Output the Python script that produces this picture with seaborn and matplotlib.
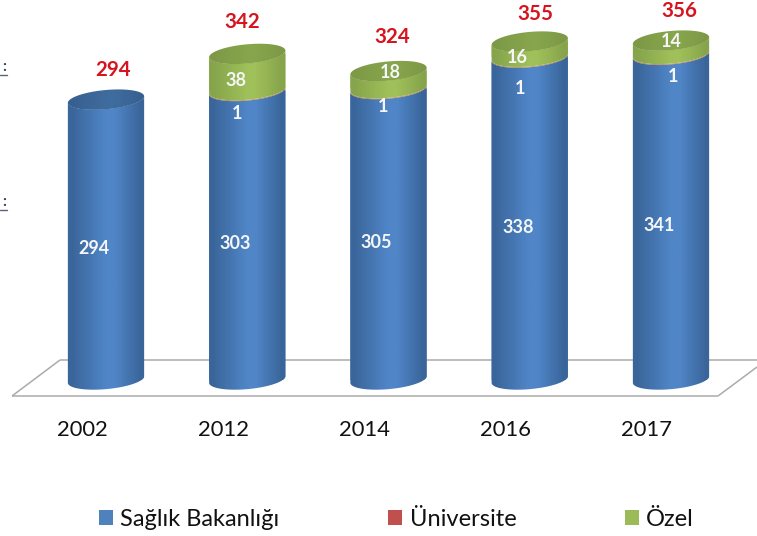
import numpy as np
import matplotlib
matplotlib.use("Agg")
import matplotlib.pyplot as plt
import seaborn as sns
from matplotlib.colors import LinearSegmentedColormap
from matplotlib.patches import Patch
from matplotlib.path import Path

# ---- data ----
years = ["2002", "2012", "2014", "2016", "2017"]
saglik = [294, 303, 305, 338, 341]
universite = [0, 1, 1, 1, 1]
ozel = [0, 38, 18, 16, 14]
totals = [294, 342, 324, 355, 356]
series_names = ["Sağlık Bakanlığı", "Üniversite", "Özel"]

# ---- layout (pixels of the 757x536 picture) ----
W, H = 757, 536
X0, STEP = 106.0, 141.25      # first cylinder centre, spacing
Y0, PXY = 379.5, 0.952        # y pixel of value 0, pixels per unit
AX_BOTTOM = 396
A, B, PHI = 38.3, 9.6, np.radians(5.3)
TICK_SHIFT = -24

blue_off = [(-12, -8.5)] * 5
red_off = [None, (-10, -23), (-5, -18), (-10, -31), (2, -22)]
green_off = [None, (-11, -8), (2, 7), (-12, -8), (0, 6)]
total_off = [(7, 30), (-5, 32), (4, 34), (6, 28), (8, 30)]

sns.set_style("white")
plt.rcParams["font.family"] = ["Lato", "DejaVu Sans"]

fig = plt.figure(figsize=(W / 100, H / 100), dpi=100)
ax = fig.add_axes([0, (H - AX_BOTTOM) / H, 1, AX_BOTTOM / H])


def xd(px):
    return (px - X0) / STEP


def yd(py):
    return (Y0 - py) / PXY


def ramp(edge, mid):
    return LinearSegmentedColormap.from_list(
        "r", [(0, edge), (0.06, edge), (0.5, mid), (0.6, mid), (0.94, edge), (1, edge)])


def arc(i, v, t0, t1, n=60):
    t = np.linspace(t0, t1, n)
    dx = A * np.cos(t) * np.cos(PHI) - B * np.sin(t) * np.sin(PHI)
    dy = A * np.cos(t) * np.sin(PHI) + B * np.sin(t) * np.cos(PHI)
    return np.column_stack([i + dx / STEP, v + dy / PXY])


grad = np.linspace(0, 1, 256).reshape(1, -1)


def shade(i, v0, v1, cmap, pts, z):
    pad = 14 / PXY
    im = ax.imshow(grad, cmap=cmap, aspect="auto", interpolation="bilinear", zorder=z,
                   extent=(i - (A + 1) / STEP, i + (A + 1) / STEP, v0 - pad, v1 + pad))
    im.set_clip_path(Path(np.vstack([pts, pts[:1]])), ax.transData)


colors = ["#4F81BD", "#C0504D", "#9BBB59"]
ramps = [ramp("#3A659A", "#5086C8"), ramp("#A9805A", "#C09A70"), ramp("#86A44B", "#A0C05A")]
cap_ramps = [ramp("#376090", "#3F6C9E"), None, ramp("#7D9947", "#87A54C")]
values = [saglik, universite, ozel]

bottom = np.zeros(len(years))
for k, vals in enumerate(values):
    n_before = len(ax.patches)
    sns.barplot(x=years, y=vals, bottom=bottom, color=colors[k], saturation=1,
                width=2 * A / STEP, linewidth=0, ax=ax, zorder=1)
    new_bars = ax.patches[n_before:]
    for i, v in enumerate(vals):
        low, high = bottom[i], bottom[i] + v
        if v > 0:
            pts = np.vstack([arc(i, low, np.pi, 2 * np.pi), arc(i, high, 2 * np.pi, np.pi)])
            shade(i, low, high, ramps[k], pts, 2 + k)
            new_bars[i].set_clip_path(Path(np.vstack([pts, pts[:1]])), ax.transData)
    bottom = bottom + np.array(vals)

# top caps
for i, tot in enumerate(bottom):
    cap = arc(i, tot, 0, 2 * np.pi, 120)
    shade(i, tot, tot, cap_ramps[2] if ozel[i] > 0 else cap_ramps[0], cap, 6)

# floor
floor_kw = dict(color="#ABABAB", lw=1.1, zorder=0.5, clip_on=False, solid_capstyle="butt")
ax.plot([xd(60), xd(757)], [yd(360), yd(360)], **floor_kw)
ax.plot([xd(12), xd(60)], [yd(396), yd(360)], **floor_kw)
ax.plot([xd(12), xd(718)], [yd(396), yd(396)], **floor_kw)
ax.plot([xd(718), xd(757)], [yd(396), yd(367)], **floor_kw)


def label(i, v, txt, off, color, size):
    ax.annotate(txt, xy=(i, v), xytext=off, textcoords="offset pixels", ha="center", va="center",
                color=color, fontsize=size, fontweight="bold", zorder=10)


for i in range(len(years)):
    label(i, saglik[i] / 2, str(saglik[i]), blue_off[i], "#F4F6F8", 13)
    if universite[i]:
        label(i, saglik[i] + universite[i] / 2, str(universite[i]), red_off[i], "#F4F6F8", 13)
    if ozel[i]:
        label(i, saglik[i] + universite[i] + ozel[i] / 2, str(ozel[i]), green_off[i], "#F4F6F8", 13)
    label(i, totals[i], str(totals[i]), total_off[i], "#D7141E", 14.8)

ax.set_xlim(xd(0), xd(W))
ax.set_ylim(yd(AX_BOTTOM), yd(0))
ax.set_xticks([i + TICK_SHIFT / STEP for i in range(len(years))])
ax.set_xticklabels(years, fontsize=15.8, color="#111111")
ax.tick_params(axis="x", length=0, pad=17)
ax.set_yticks([])
ax.set_xlabel("")
ax.set_ylabel("")
for s in ax.spines.values():
    s.set_visible(False)

# fragments cut at the left edge of the picture
for py in (67, 202):
    ax.text(xd(4.5), yd(py), ":", ha="center", va="center", fontsize=11, color="#2F3B55", fontweight="bold")
    ax.plot([xd(0), xd(7)], [yd(py + 8)] * 2, color="#5A6478", lw=1, zorder=1)

# legend
handles = [Patch(facecolor=c, edgecolor="none") for c in colors]
fig.legend(handles, series_names, loc="center", bbox_to_anchor=(396.5 / W, 1 - 519 / H), ncol=3,
           frameon=False, fontsize=17, labelcolor="#111111", handlelength=0.6, handleheight=0.6,
           handletextpad=0.3, columnspacing=4.6, borderpad=0)

fig.savefig("out.png", dpi=100)
